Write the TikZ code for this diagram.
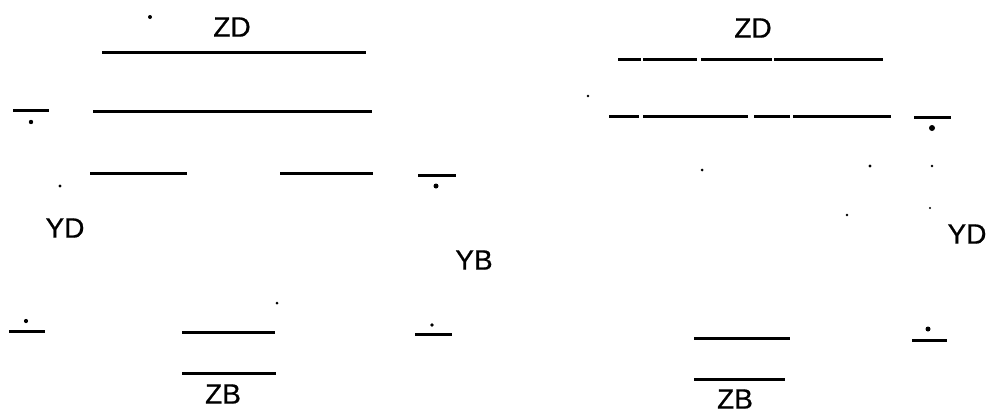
\documentclass[tikz,border=0pt]{standalone}
\usepackage{fontspec}
\setmainfont{Liberation Sans}
\newfontfamily\labfont[FakeBold=0.7]{Liberation Sans}
\tikzset{
  level/.style={draw=black,line width=3pt},
  lab/.style={font=\labfont\fontsize{28}{28}\selectfont,inner sep=0pt,text=black,anchor=center},
  speck/.style={fill=black,draw=none}
}
\begin{document}
\begin{tikzpicture}[x=1pt,y=-1pt]
\useasboundingbox (0,0) rectangle (989,413);
% left diagram
\draw[level] (102,52) -- (366,52);
\draw[level] (93,111) -- (372,111);
\draw[level] (90,173) -- (187,173);
\draw[level] (280,173) -- (373,173);
\draw[level] (13,110) -- (49,110);
\draw[level] (418,175) -- (456,175);
\draw[level] (9,331) -- (45,331);
\draw[level] (182,332) -- (275,332);
\draw[level] (182,373) -- (276,373);
\draw[level] (415,334) -- (452,334);
\node[lab] (zdl) at (232,27) {ZD};
\node[lab] (ydl) at (65,228) {YD};
\node[lab] (ybl) at (474,260) {YB};
\node[lab] (zbl) at (223,394) {ZB};
\foreach \x/\y/\r in {150/17/2,31/122/2.2,60/186/1.7,436/186/2.5,26/321/2.1,277/303/1.5,432/325/1.8}
  \fill[speck] (\x,\y) circle (\r);
% right diagram
\draw[level] (618,59) -- (641,59);
\draw[level] (643,59) -- (697,59);
\draw[level] (701,59) -- (772,59);
\draw[level] (774,59) -- (883,59);
\draw[level] (609,116) -- (639,116);
\draw[level] (643,116) -- (748,116);
\draw[level] (754,116) -- (790,116);
\draw[level] (793,116) -- (891,116);
\draw[level] (914,117) -- (951,117);
\draw[level] (694,338) -- (790,338);
\draw[level] (694,379) -- (785,379);
\draw[level] (912,340) -- (947,340);
\node[lab] (zdr) at (753,28) {ZD};
\node[lab] (ydr) at (967,234) {YD};
\node[lab] (zbr) at (735,399) {ZB};
\foreach \x/\y/\r in {932/128/3,588/96/1.3,702/170/1.5,870/166/1.6,932/166/1.4,847/215/1.3,930/208/1.1,928/329/2.5}
  \fill[speck] (\x,\y) circle (\r);
\end{tikzpicture}
\end{document}
